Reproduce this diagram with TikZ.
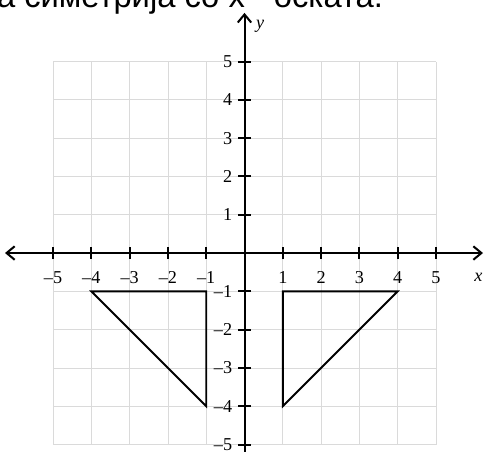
\documentclass[tikz,border=0pt]{standalone}
\usepackage{fontspec}
\setmainfont{Liberation Serif}
\newfontfamily\cyrsans{Liberation Sans}
\usetikzlibrary{arrows.meta}

\definecolor{gridgray}{HTML}{DADADA}

\begin{document}
\begin{tikzpicture}[
  >={Straight Barb[length=6pt,width=10pt]},
  every node/.style={font=\fontsize{13.5}{15}\selectfont},
  gridline/.style={gridgray, line width=0.5pt},
  axisline/.style={black, line width=1.5pt},
  shapeline/.style={black, line width=1.4pt, line join=miter}
]

%% ── FRAME ───────────────────────────────────────────────────────
\useasboundingbox (-6.384,-5.170) rectangle (6.279,6.606);

%% ── HEADING (cut off at the top) ────────────────────────────────
\node[anchor=base east, inner sep=0pt, font=\cyrsans\fontsize{24.3}{26}\selectfont]
  (heading) at (3.62,6.40) {а симетрија со x - оската.};

%% ── GRID ────────────────────────────────────────────────────────
\draw[gridline] (-5,-5) grid (5,5);

%% ── AXES ────────────────────────────────────────────────────────
\draw[axisline, <->] (-6.253,0) -- (6.227,0);
\draw[axisline, ->] (0,-5.25) -- (0,6.27);
\node (xlab) at (6.11,-0.64) {\textit{x}};
\node (ylab) at (0.41,5.93) {\textit{y}};

%% X ticks
\foreach \x/\lab in {-5/–5, -4/–4, -3/–3, -2/–2, -1/–1, 1/1, 2/2, 3/3, 4/4, 5/5}{
  \draw[axisline] (\x,-0.16) -- (\x,0.16);
  \node at (\x,-0.64) {\lab};
}

%% Y ticks
\foreach \y/\lab in {-5/–5, -4/–4, -3/–3, -2/–2, -1/–1, 1/1, 2/2, 3/3, 4/4, 5/5}{
  \draw[axisline] (-0.16,\y) -- (0.16,\y);
  \node[anchor=east] at (-0.2,\y) {\lab};
}

%% ── TRIANGLES ───────────────────────────────────────────────────
\draw[shapeline] (-4,-1) -- (-1,-1) -- (-1,-4) -- cycle;
\draw[shapeline] (1,-1) -- (4,-1) -- (1,-4) -- cycle;

\end{tikzpicture}
\end{document}
